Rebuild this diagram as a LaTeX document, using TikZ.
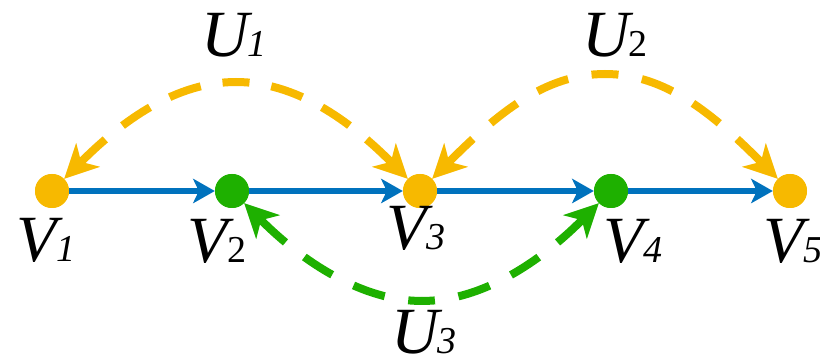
\documentclass[tikz,border=0pt]{standalone}
\usepackage{fontspec}
\setmainfont{Liberation Serif}[ItalicFont={Liberation Serif Italic},BoldFont={Liberation Serif Bold}]
\usetikzlibrary{arrows.meta}
\definecolor{myorange}{RGB}{247,185,0}
\definecolor{mygreen}{RGB}{30,176,0}
\definecolor{myblue}{RGB}{0,114,189}
\newcommand\mysub[1]{\kern-1pt{\fontsize{38}{40}\selectfont #1}}
\begin{document}
\begin{tikzpicture}[x=1pt,y=1pt,
  vert/.style={circle,fill=#1,minimum size=34pt,inner sep=0pt},
  flow/.style={myblue,line width=5.5pt,-{Stealth[length=22pt,width=25pt,inset=6pt,line width=0pt]}},
  utip/.tip={Stealth[length=34pt,width=34pt,inset=10pt,line width=0pt]},
  uarc/.style={#1,line width=8pt,{utip}-},
  lab/.style={anchor=base,inner sep=0pt,font=\fontsize{66}{70}\selectfont\itshape}]
\useasboundingbox (0,0) rectangle (820,356);
% vertices
\node[vert=myorange] (v1) at (52,165) {};
\node[vert=mygreen]  (v2) at (232,165) {};
\node[vert=myorange] (v3) at (420,165) {};
\node[vert=mygreen]  (v4) at (611,165) {};
\node[vert=myorange] (v5) at (790,165) {};
% arc apexes
\coordinate (m1) at (236,274);
\coordinate (m2) at (605,282);
\coordinate (m3) at (422,55);
% flow edges
\draw[flow] (v1) -- (v2);
\draw[flow] (v2) -- (v3);
\draw[flow] (v3) -- (v4);
\draw[flow] (v4) -- (v5);
% dashed arcs, each drawn from its two ends to its apex
\draw[uarc=myorange, dash pattern=on 33pt off 22.1pt] (v1) .. controls +(45:100) and +(180:60) .. (m1);
\draw[uarc=myorange, dash pattern=on 33pt off 22.1pt] (v3) .. controls +(135:100) and +(0:60) .. (m1);
\draw[uarc=myorange, dash pattern=on 33pt off 23.8pt] (v3) .. controls +(45:110) and +(180:60) .. (m2);
\draw[uarc=myorange, dash pattern=on 33pt off 23.8pt] (v5) .. controls +(135:110) and +(0:60) .. (m2);
\draw[uarc=mygreen, dash pattern=on 33pt off 23.9pt]  (v2) .. controls +(-45:100) and +(180:60) .. (m3);
\draw[uarc=mygreen, dash pattern=on 33pt off 23.9pt]  (v4) .. controls +(-135:100) and +(0:60) .. (m3);
% vertices on top
\node[vert=myorange] at (v1) {};
\node[vert=mygreen]  at (v2) {};
\node[vert=myorange] at (v3) {};
\node[vert=mygreen]  at (v4) {};
\node[vert=myorange] at (v5) {};
% labels
\node[lab] (l1) at (46,94) {V\mysub{1}};
\node[lab] (l2) at (217,93) {V\mysub{\upshape 2}};
\node[lab] (l3) at (416,106) {V\mysub{3}};
\node[lab] (l4) at (633,93) {V\mysub{4}};
\node[lab] (l5) at (793,93) {V\mysub{5}};
\node[lab] (u1) at (234,299) {U\mysub{1}};
\node[lab] (u2) at (615,299) {U\mysub{\upshape 2}};
\node[lab] (u3) at (424,2) {U\mysub{3}};
\end{tikzpicture}
\end{document}
